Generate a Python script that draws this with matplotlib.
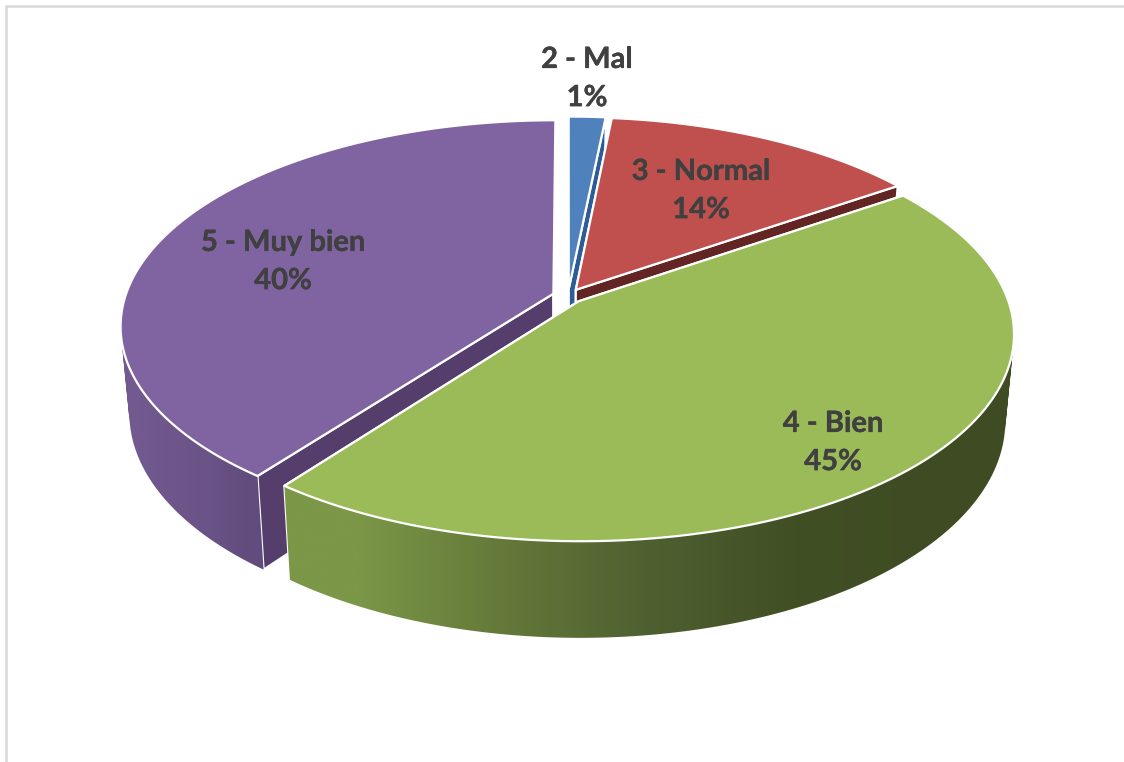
import numpy as np
import matplotlib
matplotlib.use('Agg')
import matplotlib.pyplot as plt
import matplotlib.patheffects as pe
from matplotlib.colors import to_rgb
from matplotlib.patches import Polygon, PathPatch
from matplotlib.path import Path

# valeurs du camembert (%)
categories = ['2 - Mal', '3 - Normal', '4 - Bien', '5 - Muy bien']
values = [1.6, 13.8, 44.9, 39.7]
percent_labels = ['1%', '14%', '45%', '40%']

top_colors = ['#4f81bd', '#c0504d', '#9bbb59', '#8064a2']
cut_colors = ['#2c5d96', '#632523', '#4c5d2c', '#553e6c']
# degrade du bord, de gauche a droite de la tranche
side_colors = [
    ['#3a6291', '#2c5d96'],
    ['#8a3a38', '#632523'],
    ['#7b9747', '#64793a', '#4e6030', '#414f25', '#3f4c23'],
    ['#72598f', '#6e568a', '#6a5386', '#624c7e'],
]

label_pos = [(587, 79), (701, 191), (833, 443), (283, 262)]

# projection "a la main" du disque vers l'ecran
CX, CY = 568, 296
RX, RY = 428, 201
PERSP = 0.155
DEPTH = 87
SHRINK = 0.02
EXPLODE = 0.036


def project(u, v, z=0.0):
    w = (1 - PERSP * v) * (1 + SHRINK * z)
    return CX + RX * u / w, CY + (RY * v + DEPTH * z) / w


def draw_slice(ax, start, end, i, zo):
    mid = np.radians((start + end) / 2 * 3.6)
    ou, ov = EXPLODE * np.sin(mid), -EXPLODE * np.cos(mid)
    ang = np.radians(np.linspace(start * 3.6, end * 3.6, 240))
    u = ou + np.sin(ang)
    v = ov - np.cos(ang)

    # faces coupees
    for a in (ang[0], ang[-1]):
        ru, rv = ou + np.sin(a), ov - np.cos(a)
        pts = [project(ou, ov), project(ru, rv), project(ru, rv, 1), project(ou, ov, 1)]
        ax.add_patch(Polygon(pts, closed=True, fc=cut_colors[i], ec='white', lw=1.6,
                             joinstyle='round', zorder=zo))

    # bord exterieur : une image en degrade decoupee par l'union des quads
    tx, ty = project(u, v)
    bx, by = project(u, v, 1)
    front = np.where(v > -0.1)[0]
    if len(front) > 1:
        quads = []
        for k in front[:-1]:
            quad = [(tx[k], ty[k]), (tx[k + 1], ty[k + 1]), (bx[k + 1], by[k + 1]), (bx[k], by[k])]
            # meme sens pour tous les quads
            qx, qy = np.array(quad).T
            if np.sum(qx * np.roll(qy, -1) - np.roll(qx, -1) * qy) < 0:
                quad = quad[::-1]
            quads.append(Path(quad + [quad[0]], closed=True))
        outline = Path.make_compound_path(*quads)
        clip = PathPatch(outline, fc='none', ec='none', transform=ax.transData)
        ax.add_patch(clip)
        stops = np.array([to_rgb(c) for c in side_colors[i]])
        grad = stops[None, :, :]
        xs = np.r_[tx[front], bx[front]]
        ys = np.r_[ty[front], by[front]]
        im = ax.imshow(grad, extent=[xs.min(), xs.max(), ys.max(), ys.min()],
                       aspect='auto', interpolation='bilinear', zorder=zo + 1)
        im.set_clip_path(clip)

    # dessus
    ax0, ay0 = project(ou, ov)
    top = np.column_stack([np.r_[ax0, tx], np.r_[ay0, ty]])
    ax.add_patch(Polygon(top, closed=True, fc=top_colors[i], ec='white', lw=1.6,
                         joinstyle='round', zorder=zo + 2))


fig = plt.figure(figsize=(11.24, 7.62), dpi=100)
ax = fig.add_axes([0, 0, 1, 1])
ax.axis('off')

# cadre gris du graphique
ax.plot([6, 6, 1124], [762, 6, 6], color='#d9d9d9', lw=1.8, solid_joinstyle='miter')

edges = np.r_[0, np.cumsum(values)]
# ordre de dessin : du fond vers l'avant
for n, i in enumerate([0, 1, 3, 2]):
    draw_slice(ax, edges[i], edges[i + 1], i, 10 * (n + 1))

ax.set_xlim(0, 1124)
ax.set_ylim(762, 0)

for (x, y), name, pct in zip(label_pos, categories, percent_labels):
    ax.text(x, y, name + '\n' + pct, ha='center', va='center', color='#404040',
            fontsize=21, family='Lato', fontweight='bold', linespacing=1.58, zorder=100,
            path_effects=[pe.withStroke(linewidth=0.3, foreground='#404040')])

fig.savefig('out.png', dpi=100)
